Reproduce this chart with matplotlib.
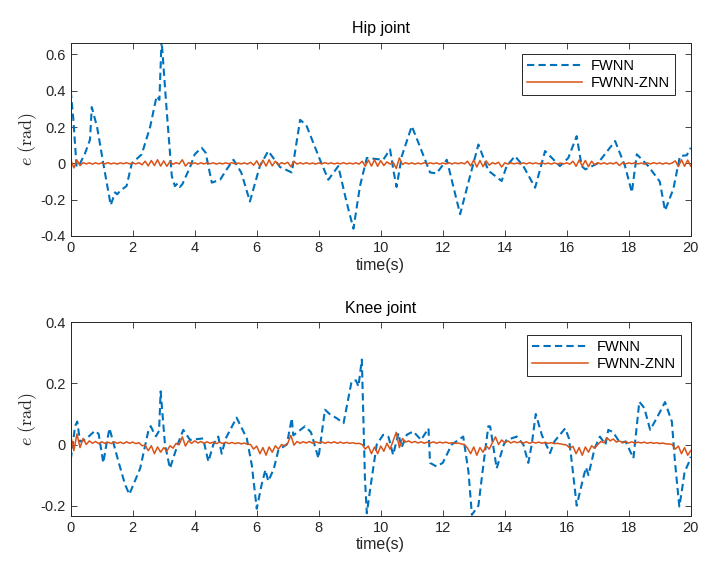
import numpy as np
import matplotlib
matplotlib.use('Agg')
import matplotlib.pyplot as plt

plt.rcParams['font.family'] = ['Liberation Sans', 'DejaVu Sans']
plt.rcParams['mathtext.fontset'] = 'cm'
plt.rcParams['axes.unicode_minus'] = False

# FWNN error, hip joint (time, value)
hip_fwnn_t = [0.0, 0.08, 0.19, 0.3, 0.45, 0.62, 0.68, 0.85, 1.05, 1.29, 1.43, 1.5, 1.6, 1.8,
              1.97, 2.29, 2.56, 2.77, 2.86, 2.93, 3.1, 3.26, 3.36, 3.45, 3.52, 3.6, 3.85, 4.0,
              4.22, 4.35, 4.55, 4.82, 5.03, 5.25, 5.5, 5.78, 6.1, 6.37, 6.75, 7.13, 7.4, 7.6,
              8.04, 8.31, 8.63, 8.9, 9.12, 9.33, 9.55, 9.8, 10.08, 10.3, 10.42, 10.51, 10.68,
              11.0, 11.2, 11.59, 11.8, 12.13, 12.56, 12.88, 13.15, 13.47, 13.9, 14.06, 14.33,
              14.6, 14.98, 15.3, 15.78, 16.05, 16.32, 16.48, 16.6, 17.0, 17.56, 17.88, 18.1,
              18.26, 18.63, 19.0, 19.17, 19.44, 19.65, 19.87, 20.0]
hip_fwnn_e = [0.40, 0.25, -0.02, 0.0, 0.05, 0.13, 0.31, 0.2, 0.0, -0.23, -0.16, -0.17, -0.15, -0.125,
              0.0, 0.05, 0.2, 0.37, 0.35, 0.68, 0.28, -0.07, -0.125, -0.11, -0.13, -0.115, -0.02, 0.05,
              0.086, 0.06, -0.106, -0.09, -0.033, 0.02, -0.05, -0.21, -0.015, 0.068, -0.02, -0.05, 0.24, 0.21,
              0.02, -0.09, -0.015, -0.215, -0.36, -0.125, 0.03, 0.025, 0.02, 0.077, -0.05, -0.13, 0.04,
              0.205, 0.12, -0.05, -0.055, 0.02, -0.28, -0.07, 0.104, -0.04, -0.097, -0.015, 0.04,
              -0.015, -0.134, 0.068, -0.015, 0.03, 0.15, -0.015, -0.033, 0.0, 0.123, -0.015, -0.16,
              0.05, -0.015, -0.1, -0.26, -0.14, 0.04, 0.045, 0.086]

# FWNN error, knee joint
knee_fwnn_t = [0.0, 0.14, 0.21, 0.3, 0.47, 0.78, 0.9, 1.05, 1.15, 1.25, 1.54, 1.75, 1.89, 2.24, 2.3,
               2.5, 2.58, 2.7, 2.75, 2.85, 2.9, 3.04, 3.2, 3.45, 3.63, 3.85, 4.27, 4.44, 4.6, 4.76,
               4.87, 5.0, 5.35, 5.68, 5.84, 6.0, 6.16, 6.28, 6.37, 6.55, 6.7, 6.97, 7.13, 7.18, 7.56,
               7.75, 7.99, 8.2, 8.35, 8.58, 8.8, 9.06, 9.2, 9.28, 9.39, 9.49, 9.55, 9.71, 9.87, 10.08,
               10.25, 10.4, 10.57, 10.67, 10.84, 11.05, 11.3, 11.54, 11.59, 11.8, 12.0, 12.29, 12.66,
               12.83, 12.94, 13.15, 13.31, 13.47, 13.53, 13.74, 13.97, 14.06, 14.39, 14.6, 14.76,
               14.87, 15.0, 15.2, 15.46, 15.6, 15.95, 16.07, 16.2, 16.32, 16.53, 16.62, 16.7, 16.9,
               17.07, 17.25, 17.34, 17.5, 17.72, 17.9, 18.15, 18.34, 18.5, 18.69, 18.9, 19.17, 19.39,
               19.49, 19.63, 19.7, 19.8, 19.95, 20.0]
knee_fwnn_e = [-0.05, 0.06, 0.075, 0.01, 0.016, 0.045, 0.035, -0.06, 0.0, 0.053, -0.056, -0.13, -0.163, -0.078, -0.05,
               0.043, 0.06, 0.035, 0.027, 0.045, 0.174, 0.0, -0.078, 0.0, 0.048, 0.015, 0.02, -0.056, 0.0, 0.026,
               -0.03, 0.02, 0.088, 0.02, -0.067, -0.21, -0.13, -0.083, -0.12, -0.08, -0.017, 0.0, 0.086, 0.03, 0.06,
               0.04, -0.045, 0.114, 0.1, 0.086, 0.07, 0.207, 0.21, 0.19, 0.278, -0.11, -0.225, -0.11, 0.0, 0.032,
               0.025, -0.034, 0.037, -0.01, 0.032, 0.043, 0.015, 0.053, -0.06, -0.072, -0.06, 0.0, 0.026,
               -0.09, -0.23, -0.2, -0.067, 0.06, 0.059, -0.078, 0.0, 0.015, 0.026, 0.0, -0.06,
               0.0, 0.1, 0.03, -0.028, 0.01, 0.053, 0.02, -0.09, -0.2, -0.11, -0.075, -0.1, -0.012,
               0.026, 0.0, 0.048, 0.04, 0.005, 0.01, -0.045, 0.14, 0.12, 0.048, 0.086, 0.139, 0.075,
               -0.056, -0.203, -0.16, -0.09, -0.056, -0.04]

# FWNN-ZNN error, sampled every 0.1 s (0 ... 20 s)
hip_znn_e = [
    0.02, -0.025, 0.018, -0.012, 0.004, -0.003, 0.003, -0.004, 0.003, -0.003,
    0.003, -0.003, 0.004, -0.003, 0.002, -0.004, 0.003, -0.002, 0.004, -0.003,
    0.002, -0.003, 0.004, -0.008, 0.012, -0.014, 0.016, -0.012, 0.02, -0.015,
    0.014, -0.016, 0.01, -0.005, 0.004, -0.003, 0.02, -0.015, 0.004, -0.003,
    0.003, -0.004, 0.003, -0.003, 0.004, -0.002, 0.003, -0.004, 0.002, -0.003,
    0.003, -0.002, 0.004, -0.003, 0.002, -0.003, 0.003, -0.004, 0.006, -0.01,
    0.014, -0.016, 0.018, -0.015, 0.02, -0.014, 0.012, -0.008, 0.004, -0.003,
    0.006, -0.018, 0.012, -0.004, 0.003, -0.003, 0.004, -0.003, 0.002, -0.004,
    0.003, -0.003, 0.004, -0.002, 0.003, -0.003, 0.002, -0.003, 0.004, -0.003,
    0.002, -0.003, 0.003, -0.004, 0.012, -0.016, 0.018, -0.015, 0.02, -0.016,
    0.015, -0.012, 0.008, -0.004, 0.006, -0.028, 0.03, -0.006, 0.004, -0.003,
    0.003, -0.004, 0.002, -0.003, 0.004, -0.003, 0.003, -0.002, 0.003, -0.004,
    0.002, -0.003, 0.004, -0.003, 0.003, -0.002, 0.004, -0.003, 0.012, -0.014,
    0.018, -0.02, 0.016, -0.018, 0.014, -0.01, 0.004, -0.003, 0.006, -0.02,
    0.003, -0.004, 0.003, -0.003, 0.002, -0.004, 0.003, -0.003, 0.004, -0.002,
    0.003, -0.003, 0.004, -0.003, 0.002, -0.004, 0.003, -0.003, 0.002, -0.003,
    0.003, -0.004, 0.012, -0.016, 0.018, -0.014, 0.016, -0.018, 0.012, -0.008,
    0.004, -0.003, 0.003, -0.004, 0.003, -0.003, 0.006, -0.012, 0.004, -0.003,
    0.003, -0.002, 0.004, -0.003, 0.002, -0.004, 0.003, -0.003, 0.004, -0.002,
    0.003, -0.004, 0.003, -0.003, 0.002, 0.014, -0.018, 0.02, -0.016, 0.018,
    -0.015]

knee_znn_e = [
    0.03, -0.02, 0.035, -0.01, 0.02, 0.0, 0.012, 0.004, 0.01, 0.003,
    0.009, 0.004, 0.008, 0.003, 0.009, 0.004, 0.008, 0.003, 0.009, 0.004,
    0.008, 0.003, 0.006, -0.004, -0.002, -0.02, -0.004, -0.03, -0.008, -0.025,
    -0.01, -0.022, -0.004, -0.012, 0.004, 0.0, 0.025, -0.005, 0.012, 0.004,
    0.012, 0.005, 0.01, 0.004, 0.009, 0.004, 0.008, 0.003, 0.008, 0.003,
    0.008, 0.003, 0.007, 0.003, 0.006, 0.002, 0.005, 0.001, 0.0, -0.015,
    -0.005, -0.03, -0.01, -0.035, -0.008, -0.025, -0.004, -0.015, 0.0, -0.004,
    0.004, 0.03, -0.002, 0.01, 0.004, 0.009, 0.005, 0.01, 0.004, 0.009,
    0.005, 0.009, 0.004, 0.008, 0.005, 0.009, 0.004, 0.008, 0.004, 0.007,
    0.004, 0.006, 0.003, 0.004, 0.0, -0.015, -0.005, -0.03, -0.008, -0.03,
    -0.005, -0.022, 0.004, -0.015, 0.012, 0.04, -0.01, 0.02, 0.008, 0.012,
    0.006, 0.01, 0.005, 0.009, 0.004, 0.008, 0.005, 0.009, 0.004, 0.008,
    0.005, 0.008, 0.004, 0.006, 0.004, 0.005, 0.002, 0.0, -0.012, -0.03,
    -0.008, -0.035, -0.01, -0.025, -0.004, -0.015, 0.006, 0.025, 0.0, 0.015,
    0.006, 0.012, 0.005, 0.01, 0.006, 0.009, 0.005, 0.009, 0.004, 0.008,
    0.005, 0.008, 0.004, 0.007, 0.004, 0.006, 0.003, 0.004, 0.002, 0.0,
    -0.002, -0.012, -0.006, -0.03, -0.01, -0.035, -0.008, -0.025, -0.004, -0.012,
    0.0, 0.01, 0.006, 0.022, 0.012, 0.018, 0.008, 0.012, 0.006, 0.01,
    0.005, 0.009, 0.004, 0.008, 0.005, 0.008, 0.004, 0.007, 0.004, 0.006,
    0.003, 0.005, 0.002, 0.002, 0.0, -0.015, -0.005, -0.03, -0.01, -0.035,
    -0.02]

znn_t = np.linspace(0, 20, len(hip_znn_e))

panels = [
    ('Hip joint', hip_fwnn_t, hip_fwnn_e, hip_znn_e, (-0.4, 0.665), [-0.4, -0.2, 0, 0.2, 0.4, 0.6],
     [0.1009, 0.5816, 0.8845, 0.3427], (0.975, 0.94)),
    ('Knee joint', knee_fwnn_t, knee_fwnn_e, knee_znn_e, (-0.233, 0.4), [-0.2, 0, 0.2, 0.4],
     [0.1009, 0.0856, 0.8845, 0.3429], (0.984, 0.934)),
]

fig = plt.figure(figsize=(7.01, 5.64), dpi=100)
dark = '#262626'
for title, ft, fe, ze, ylim, yticks, pos, legpos in panels:
    ax = fig.add_axes(pos)
    ax.plot(ft, fe, color='#0072BD', lw=1.5, ls=(0, (3.5, 2)), label='FWNN')
    ax.plot(znn_t, ze, color='#D95319', lw=1.1, label='FWNN-ZNN')
    ax.set_xlim(0, 20)
    ax.set_ylim(*ylim)
    ax.set_xticks(range(0, 21, 2))
    ax.set_yticks(yticks)
    ax.set_yticklabels(['%g' % v for v in yticks])
    ax.tick_params(direction='in', top=True, right=True, labelsize=10.5, colors=dark, length=4, width=0.6)
    for s in ax.spines.values():
        s.set_color(dark)
        s.set_linewidth(0.7)
    ax.set_title(title, fontsize=11.5, pad=7)
    ax.set_xlabel('time(s)', fontsize=11.5, color=dark, labelpad=2)
    ax.set_ylabel(r'$e\ (\mathrm{rad})$', fontsize=13, color=dark, labelpad=1)
    leg = ax.legend(loc='upper right', bbox_to_anchor=legpos, borderaxespad=0, fontsize=10.5,
                    fancybox=False, framealpha=1, edgecolor=dark, handlelength=3.8,
                    borderpad=0.35, labelspacing=0.2, handletextpad=0.6)
    leg.get_frame().set_linewidth(0.7)

fig.savefig('out.png', dpi=100)
